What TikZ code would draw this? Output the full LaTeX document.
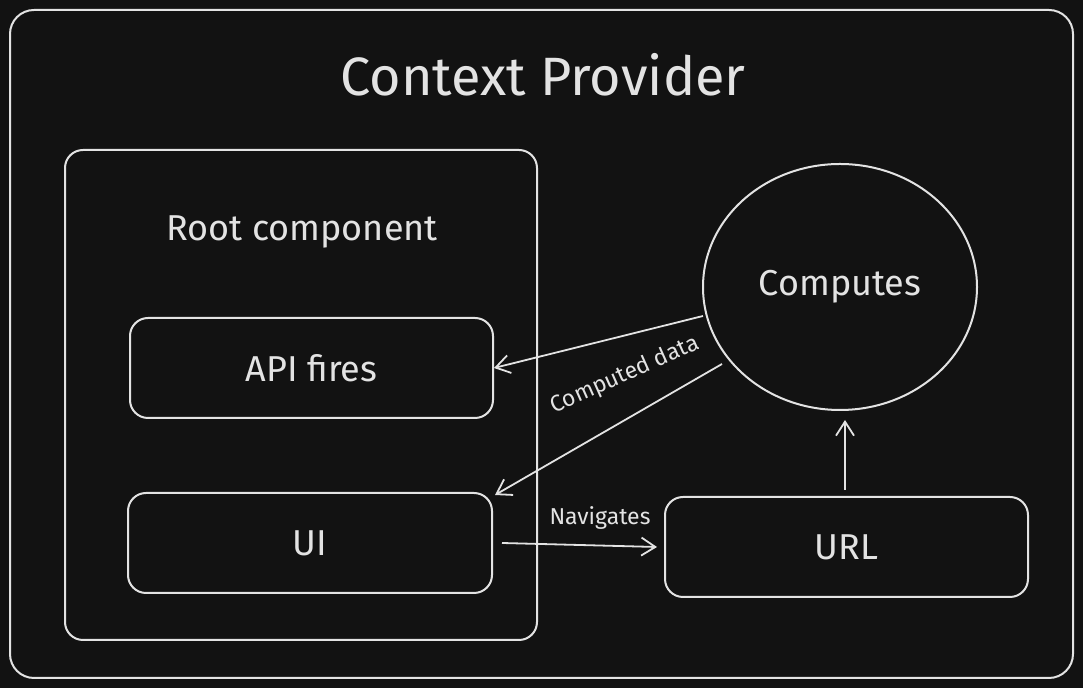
\documentclass[tikz,border=0pt]{standalone}
\usepackage{fontspec}
\setmainfont{Fira Sans}
\usetikzlibrary{arrows.meta,shapes.geometric}
\definecolor{bg}{HTML}{121212}
\definecolor{ink}{HTML}{E3E3E3}
\begin{document}
\begin{tikzpicture}[x=0.5pt,y=-0.5pt,
  box/.style={draw=ink,line width=1pt,rounded corners=9pt},
  lbl/.style={text=ink,font=\fontsize{18}{21}\selectfont},
  small/.style={text=ink,font=\fontsize{11.5}{13}\selectfont},
  arr/.style={draw=ink,line width=0.9pt,-{Straight Barb[length=7pt,width=9pt]}}]
\fill[bg] (0,0) rectangle (1083,688);
\useasboundingbox (0,0) rectangle (1083,688);
\draw[box,rounded corners=12pt] (10,10) rectangle (1073,678);
\node[text=ink,font=\fontsize{27}{31}\selectfont] (title) at (543,75) {Context Provider};
\draw[box] (65,150) rectangle (537,640);
\node[lbl] (root) at (302,232) {Root component};
\node[box,minimum width=181.5pt,minimum height=50pt,lbl] (api) at (311.5,368) {API fires};
\node[box,minimum width=182pt,minimum height=50pt,lbl] (ui) at (310,543) {UI};
\node[box,minimum width=181.5pt,minimum height=50pt,lbl] (url) at (846.5,547) {URL};
\node[draw=ink,line width=1pt,ellipse,minimum width=137pt,minimum height=123pt,lbl] (comp) at (840,287) {Computes};
\coordinate (c1) at (703,316);
\coordinate (c2) at (722,364);
\coordinate (u1) at (502,543);
\coordinate (r1) at (657,547);
\coordinate (url1) at (845,490);
\coordinate (cb) at (845,420);
\draw[arr] (c1) -- (api.east);
\draw[arr] (c2) -- (495,495);
\node[small,rotate=24] (cd) at (625,375) {Computed data};
\draw[arr] (u1) -- (r1);
\node[small] (nav) at (600,518) {Navigates};
\draw[arr] (url1) -- (cb);
\end{tikzpicture}
\end{document}
